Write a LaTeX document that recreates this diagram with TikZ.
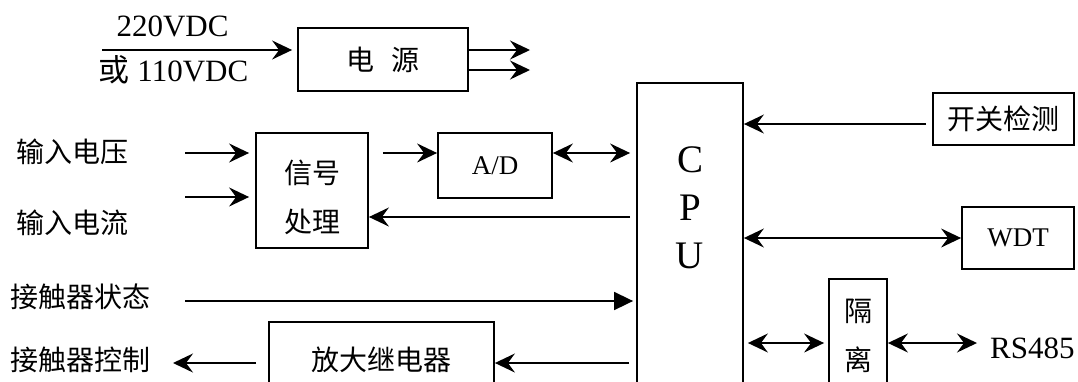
\documentclass[tikz,border=0pt]{standalone}
\usepackage{fontspec}
\setmainfont{Liberation Serif}
\newfontfamily\cjk{Noto Sans CJK SC}
\usetikzlibrary{arrows.meta}
\begin{document}
\begin{tikzpicture}[x=1pt,y=-1pt,
 box/.style={draw, line width=1.8pt, inner sep=0pt},
 stl/.tip={Stealth[length=20pt,width=19pt,inset=7pt]},
 arr/.style={line width=1.7pt, -stl},
 darr/.style={line width=1.7pt, stl-stl},
 tarr/.style={line width=1.7pt, -{Triangle[length=19pt,width=18pt]}},
 zh/.style={font=\cjk\fontsize{28}{49}\selectfont, inner sep=0pt, align=center},
 en/.style={font=\fontsize{31}{36}\selectfont, inner sep=0pt},
 ens/.style={font=\fontsize{27}{30}\selectfont, inner sep=0pt},
]
\useasboundingbox (0,0) rectangle (1078,381);
\clip (0,0) rectangle (1078,381);

% boxes
\node[box, zh, minimum width=170pt, minimum height=63pt] (pwr) at (383,59.5) {电\hspace{0.6em}源};
\node[box, minimum width=112pt, minimum height=115pt] (sig) at (312,190.5) {};
\node[zh] (sigt) at (312,197.5) {信号\\处理};
\node[box, ens, minimum width=114pt, minimum height=65pt] (ad) at (495,165.5) {A/D};
\node[box, minimum width=106pt, minimum height=330pt] (cpu) at (690,248) {};
\node[font=\fontsize{39}{48}\selectfont, inner sep=0pt, align=center] (cput) at (690,208) {C\\P\\U};
\node[box, zh, minimum width=141pt, minimum height=52pt] (sw) at (1003.5,119) {开关检测};
\node[box, ens, minimum width=112pt, minimum height=62pt] (wdt) at (1018,238) {WDT};
\node[box, zh, minimum width=58pt, minimum height=114pt] (iso) at (858,336) {隔\\离};
\node[box, zh, minimum width=225pt, minimum height=76pt] (relay) at (381.5,360) {放大继电器};

% labels
\node[en] (v220) at (172.5,26) {220VDC};
\node[en] (v110) at (173.5,70) {{\cjk 或} 110VDC};
\node[zh, anchor=west] (lv) at (16,152) {输入电压};
\node[zh, anchor=west] (li) at (16,223) {输入电流};
\node[zh, anchor=west] (lks) at (10,297) {接触器状态};
\node[zh, anchor=west] (lkc) at (10,360) {接触器控制};
\node[en, anchor=west] (rs) at (990,348) {RS485};

% coordinates
\coordinate (pin) at (102,50);
\coordinate (o1) at (530,50);
\coordinate (o2) at (530,70);
\coordinate (vin) at (185,153);
\coordinate (iin) at (185,197);
\coordinate (yfb) at (0,217);
\coordinate (ysw) at (0,124);
\coordinate (kin) at (185,301);
\coordinate (ykc) at (0,363);
\coordinate (kout) at (173,363);
\coordinate (y485) at (0,343);
\coordinate (rsend) at (977,343);

% connectors
\draw[arr, shorten >=5pt] (pin) -- (pwr.west |- pin);
\draw[arr] (pwr.east |- o1) -- (o1);
\draw[arr] (pwr.east |- o2) -- (o2);
\draw[arr, shorten >=6pt] (vin) -- (sig.west |- vin);
\draw[arr, shorten >=6pt] (iin) -- (sig.west |- iin);
\draw[arr, shorten <=14pt] (sig.east |- vin) -- (ad.west |- vin);
\draw[darr, shorten >=6pt] (ad.east |- vin) -- (cpu.west |- vin);
\draw[arr, shorten <=6pt] (cpu.west |- yfb) -- (sig.east |- yfb);
\draw[arr, shorten <=6pt] (sw.west |- ysw) -- (cpu.east |- ysw);
\draw[darr] (cpu.east |- wdt.west) -- (wdt.west);
\draw[tarr, shorten >=3pt] (kin) -- (cpu.west |- kin);
\draw[arr, shorten <=7pt] (cpu.west |- ykc) -- (relay.east |- ykc);
\draw[arr, shorten <=12pt] (relay.west |- ykc) -- (kout);
\draw[darr, shorten <=4pt, shorten >=4pt] (cpu.east |- y485) -- (iso.west |- y485);
\draw[darr] (iso.east |- rsend) -- (rsend);
\end{tikzpicture}
\end{document}
